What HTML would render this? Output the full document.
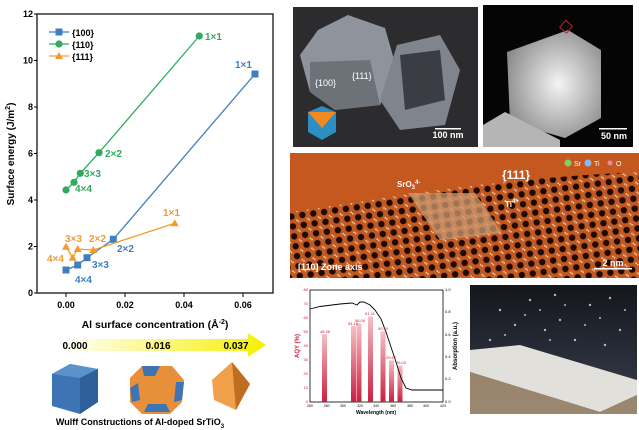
<!DOCTYPE html>
<html><head><meta charset="utf-8"><style>
body{margin:0;width:639px;height:430px;background:#fff;overflow:hidden;font-family:"Liberation Sans",sans-serif}
svg{display:block}
</style></head><body>
<svg width="639" height="430" viewBox="0 0 639 430" xmlns="http://www.w3.org/2000/svg" font-family="Liberation Sans, sans-serif">
<defs>
<linearGradient id="arrow" x1="0" x2="1"><stop offset="0" stop-color="#fff"/><stop offset="1" stop-color="#f6f000"/></linearGradient>
<linearGradient id="bar" x1="0" y1="0" x2="0" y2="1"><stop offset="0" stop-color="#f6c0c6"/><stop offset="1" stop-color="#c8203f"/></linearGradient>
<radialGradient id="stem" cx="0.55" cy="0.5" r="0.6"><stop offset="0" stop-color="#f4f4f4"/><stop offset="1" stop-color="#8a8a8a"/></radialGradient>
<pattern id="lat" width="11" height="10" patternUnits="userSpaceOnUse" patternTransform="rotate(-8)"><rect width="11" height="10" fill="#c05a22"/><circle cx="5.5" cy="5" r="3.2" fill="#1e0802"/><circle cx="0" cy="0" r="1.6" fill="#f8d8b0"/><circle cx="11" cy="10" r="1.6" fill="#f8d8b0"/></pattern>
<linearGradient id="photo" x1="0" y1="0" x2="0" y2="1"><stop offset="0" stop-color="#14161c"/><stop offset="1" stop-color="#3a4050"/></linearGradient>
</defs>

<!-- left chart -->
<rect x="37" y="14" width="236" height="279" fill="none" stroke="#000" stroke-width="1.2"/>
<g font-size="9" font-weight="bold" text-anchor="end">
<text x="33" y="296">0</text><text x="33" y="249.5">2</text><text x="33" y="203">4</text><text x="33" y="156.5">6</text><text x="33" y="110">8</text><text x="33" y="63.5">10</text><text x="33" y="17">12</text>
</g>
<g stroke="#000" stroke-width="1">
<line x1="34" y1="293" x2="37" y2="293"/><line x1="34" y1="246.5" x2="37" y2="246.5"/><line x1="34" y1="200" x2="37" y2="200"/><line x1="34" y1="153.5" x2="37" y2="153.5"/><line x1="34" y1="107" x2="37" y2="107"/><line x1="34" y1="60.5" x2="37" y2="60.5"/><line x1="34" y1="14" x2="37" y2="14"/>
<line x1="66" y1="293" x2="66" y2="297"/><line x1="125" y1="293" x2="125" y2="297"/><line x1="184" y1="293" x2="184" y2="297"/><line x1="243" y1="293" x2="243" y2="297"/>
</g>
<g font-size="9" font-weight="bold" text-anchor="middle">
<text x="66" y="308">0.00</text><text x="125" y="308">0.02</text><text x="184" y="308">0.04</text><text x="243" y="308">0.06</text>
</g>
<text x="155" y="328" font-size="10.5" font-weight="bold" text-anchor="middle">Al surface concentration (Å<tspan dy="-4" font-size="7">-2</tspan><tspan dy="4">)</tspan></text>
<text transform="translate(14,154) rotate(-90)" font-size="10" font-weight="bold" text-anchor="middle">Surface energy (J/m<tspan dy="-4" font-size="7">2</tspan><tspan dy="4">)</tspan></text>

<polyline points="66,270 77.7,265 87,257.7 113.3,239.3 255,74" fill="none" stroke="#3f7fc0" stroke-width="1.3"/>
<g fill="#3f7fc0"><rect x="62.5" y="266.5" width="7" height="7"/><rect x="74.2" y="261.5" width="7" height="7"/><rect x="83.5" y="254.2" width="7" height="7"/><rect x="109.8" y="235.8" width="7" height="7"/><rect x="251.5" y="70.5" width="7" height="7"/></g>
<polyline points="66,190 74,182.3 80.3,173.3 99,152.7 199.3,36" fill="none" stroke="#2eab5f" stroke-width="1.3"/>
<g fill="#2eab5f"><circle cx="66" cy="190" r="3.6"/><circle cx="74" cy="182.3" r="3.6"/><circle cx="80.3" cy="173.3" r="3.6"/><circle cx="99" cy="152.7" r="3.6"/><circle cx="199.3" cy="36" r="3.6"/></g>
<polyline points="66,246.7 72.7,257.7 77.7,249 93.3,250 174.7,223.3" fill="none" stroke="#f39a2a" stroke-width="1.3"/>
<g fill="#f39a2a"><path d="M66,242.7l4,7h-8z"/><path d="M72.7,253.7l4,7h-8z"/><path d="M77.7,245l4,7h-8z"/><path d="M93.3,246l4,7h-8z"/><path d="M174.7,219.3l4,7h-8z"/></g>

<g font-size="10" font-weight="bold">
<line x1="49" y1="32" x2="69" y2="32" stroke="#3f7fc0" stroke-width="1.3"/><rect x="55.5" y="28.5" width="7" height="7" fill="#3f7fc0"/><text x="72" y="36" fill="#000" font-size="9">{100}</text>
<line x1="49" y1="44" x2="69" y2="44" stroke="#2eab5f" stroke-width="1.3"/><circle cx="59" cy="44" r="3.6" fill="#2eab5f"/><text x="72" y="48" font-size="9">{110}</text>
<line x1="49" y1="56" x2="69" y2="56" stroke="#f39a2a" stroke-width="1.3"/><path d="M59,52l4,7h-8z" fill="#f39a2a"/><text x="72" y="60" font-size="9">{111}</text>
<g fill="#2eab5f"><text x="205" y="40">1×1</text><text x="105" y="157">2×2</text><text x="84" y="177">3×3</text><text x="75" y="192">4×4</text></g>
<g fill="#3f7fc0"><text x="235" y="68">1×1</text><text x="117" y="252">2×2</text><text x="92" y="268">3×3</text><text x="75" y="283">4×4</text></g>
<g fill="#f39a2a"><text x="163" y="216">1×1</text><text x="89" y="242">2×2</text><text x="65" y="242">3×3</text><text x="47" y="262">4×4</text></g>
</g>

<!-- arrow & wulff -->
<path d="M60,339 H248 V333 L266,345 L248,357 V351 H60 Z" fill="url(#arrow)"/>
<g font-size="10" font-weight="bold" text-anchor="middle"><text x="75" y="349">0.000</text><text x="158" y="349">0.016</text><text x="236" y="349">0.037</text></g>
<path d="M52,374 L70,364 L98,369 L98,402 L80,414 L52,406 Z" fill="#3c74b4"/><path d="M52,374 L70,364 L98,369 L80,378 Z" fill="#5a92cc"/><path d="M80,378 L98,369 L98,402 L80,414Z" fill="#2e5f98"/>
<path d="M130,378 L142,366 L172,366 L184,380 L182,402 L170,414 L142,414 L130,402 Z" fill="#e88f3a"/>
<path d="M142,366 L160,366 L155,376 L144,376Z" fill="#3c74b4"/><path d="M130,388 L138,383 L140,400 L132,402Z" fill="#3c74b4"/><path d="M176,382 L184,382 L182,400 L174,402Z" fill="#3c74b4"/><path d="M148,404 L166,404 L170,412 L144,412Z" fill="#3c74b4"/>
<path d="M232,362 L250,384 L236,410 L214,400 L212,380 Z" fill="#f0a04a"/><path d="M232,362 L250,384 L236,410Z" fill="#c06d22"/>
<text x="140" y="425" font-size="9" font-weight="bold" text-anchor="middle">Wulff Constructions of Al-doped SrTiO<tspan dy="3" font-size="6">3</tspan></text>

<!-- SEM -->
<rect x="293" y="7" width="185" height="140" fill="#2c2c2e"/>
<path d="M318,30 L348,15 L385,28 L397,70 L380,105 L335,110 L310,92 L300,55Z" fill="#8f949c"/>
<path d="M310,62 L370,60 L380,105 L335,110 L310,92Z" fill="#6d7279"/>
<path d="M397,45 L440,35 L460,70 L445,125 L400,130 L380,100Z" fill="#80858d"/>
<path d="M400,55 L440,50 L445,100 L405,110Z" fill="#3a3d43"/>
<text x="315" y="86" font-size="9" fill="#fff">{100}</text><text x="352" y="79" font-size="9" fill="#fff">{111}</text>
<path d="M308,112 L322,106 L336,112 L336,132 L322,140 L308,132Z" fill="#2d8ec4"/><path d="M308,112 L336,112 L322,128Z" fill="#f08a20"/>
<text x="448" y="138" font-size="9" font-weight="bold" fill="#fff" text-anchor="middle">100 nm</text><rect x="435" y="128" width="26" height="1.5" fill="#fff"/>
<!-- STEM -->
<rect x="483" y="5" width="150" height="142" fill="#050505"/>
<path d="M507,52 L568,30 L601,50 L601,118 L565,138 L510,122Z" fill="url(#stem)"/>
<path d="M483,125 L505,112 L560,140 L560,147 L483,147Z" fill="#b5b5b5"/>
<rect x="562" y="22" width="9" height="9" fill="none" stroke="#c02020" transform="rotate(40 566 26)"/>
<text x="614" y="139" font-size="9" font-weight="bold" fill="#fff" text-anchor="middle">50 nm</text><rect x="599" y="128" width="28" height="1.5" fill="#fff"/>

<!-- HRTEM -->
<rect x="290" y="153" width="349" height="125" fill="#c4581f"/>
<path d="M290,278 L290,212 C380,200 470,180 639,172 L639,278Z" fill="url(#lat)"/>
<text x="298" y="270" font-size="9" font-weight="bold" fill="#fff">[110] Zone axis</text>
<text x="397" y="187" font-size="8" font-weight="bold" fill="#fff">SrO<tspan font-size="6" dy="2">3</tspan><tspan font-size="6" dy="-5">4-</tspan></text>
<text x="502" y="179" font-size="12" font-weight="bold" fill="#fff">{111}</text>
<text x="505" y="207" font-size="8" font-weight="bold" fill="#fff">Ti<tspan font-size="6" dy="-4">4+</tspan></text>
<path d="M408,193 L475,193 L502,233 L440,240Z" fill="#c99a72" opacity="0.75"/>
<circle cx="568" cy="163" r="3.5" fill="#7fcf6a"/><text x="574" y="166" font-size="7" fill="#fff">Sr</text><circle cx="588" cy="163" r="3.5" fill="#8ab8f0"/><text x="594" y="166" font-size="7" fill="#fff">Ti</text><circle cx="610" cy="163" r="2.5" fill="#e88aa0"/><text x="616" y="166" font-size="7" fill="#fff">O</text>
<text x="613" y="266" font-size="9" font-weight="bold" fill="#fff" text-anchor="middle">2 nm</text><rect x="594" y="268" width="38" height="1.5" fill="#fff"/>

<!-- AQY chart -->
<rect x="310" y="290" width="133" height="112" fill="none" stroke="#000" stroke-width="0.8"/>
<g fill="url(#bar)">
<rect x="322" y="334" width="5" height="68"/><rect x="351" y="326" width="5" height="76"/><rect x="356.5" y="323.5" width="5" height="78.5"/><rect x="368" y="316.5" width="5" height="85.5"/><rect x="380.5" y="331.3" width="5" height="70.7"/><rect x="389" y="360.5" width="5" height="41.5"/><rect x="397.5" y="365.6" width="5" height="36.4"/>
</g>
<polyline points="310,309 320,306.5 340,304 352,303 357,305 360,302 364,302 370,305 375,310 381,319 386,332 391,347 396,362 401,378 406,388 412,390 443,390" fill="none" stroke="#000" stroke-width="0.9"/>
<g font-size="4" fill="#c8203f" text-anchor="middle"><text x="325" y="333">48.36</text><text x="353" y="325">54.16</text><text x="360" y="322">56.09</text><text x="370" y="315">61.11</text><text x="383" y="330">50.50</text><text x="391" y="359">29.67</text><text x="401" y="364">26.03</text></g>
<g font-size="4" fill="#c8203f" text-anchor="end"><text x="308" y="403">0</text><text x="308" y="389">10</text><text x="308" y="375">20</text><text x="308" y="361">30</text><text x="308" y="347">40</text><text x="308" y="333">50</text><text x="308" y="319">60</text><text x="308" y="305">70</text><text x="308" y="291">80</text></g>
<g font-size="4" fill="#000"><text x="445" y="403">0.0</text><text x="445" y="380">0.2</text><text x="445" y="358">0.4</text><text x="445" y="336">0.6</text><text x="445" y="313">0.8</text><text x="445" y="291">1.0</text></g>
<g font-size="3.5" text-anchor="middle"><text x="310" y="407">260</text><text x="326.6" y="407">280</text><text x="343" y="407">300</text><text x="360" y="407">320</text><text x="376" y="407">340</text><text x="393" y="407">360</text><text x="410" y="407">380</text><text x="426" y="407">400</text><text x="443" y="407">420</text></g>
<text x="376" y="414" font-size="5" font-weight="bold" text-anchor="middle">Wavelength (nm)</text>
<text transform="translate(299,346) rotate(-90)" font-size="6" font-weight="bold" fill="#c8203f" text-anchor="middle">AQY (%)</text>
<text transform="translate(457,346) rotate(-90)" font-size="6" font-weight="bold" text-anchor="middle">Absorption (a.u.)</text>

<!-- photo -->
<rect x="470" y="285" width="167" height="129" fill="url(#photo)"/>
<path d="M470,350 L520,345 L637,380 L637,395 L600,412 L470,372Z" fill="#e2e0da"/>
<path d="M470,372 L600,412 L637,395 L637,414 L470,414Z" fill="#b49a78" opacity="0.8"/>
<g fill="#d0d4da" opacity="0.85"><circle cx="500" cy="310" r="1.2"/><circle cx="530" cy="300" r="1.2"/><circle cx="560" cy="320" r="1.2"/><circle cx="590" cy="305" r="1.2"/><circle cx="620" cy="330" r="1.2"/><circle cx="545" cy="330" r="1.2"/><circle cx="515" cy="325" r="1.2"/><circle cx="575" cy="340" r="1.2"/><circle cx="605" cy="345" r="1.2"/><circle cx="490" cy="340" r="1.2"/><circle cx="555" cy="295" r="1.2"/><circle cx="610" cy="298" r="1.2"/><circle cx="525" cy="315" r="1"/><circle cx="585" cy="325" r="1"/><circle cx="540" cy="310" r="1"/><circle cx="600" cy="318" r="1"/><circle cx="565" cy="305" r="1"/><circle cx="505" cy="335" r="1"/><circle cx="625" cy="310" r="1"/><circle cx="550" cy="340" r="1"/></g>
</svg>
</body></html>
